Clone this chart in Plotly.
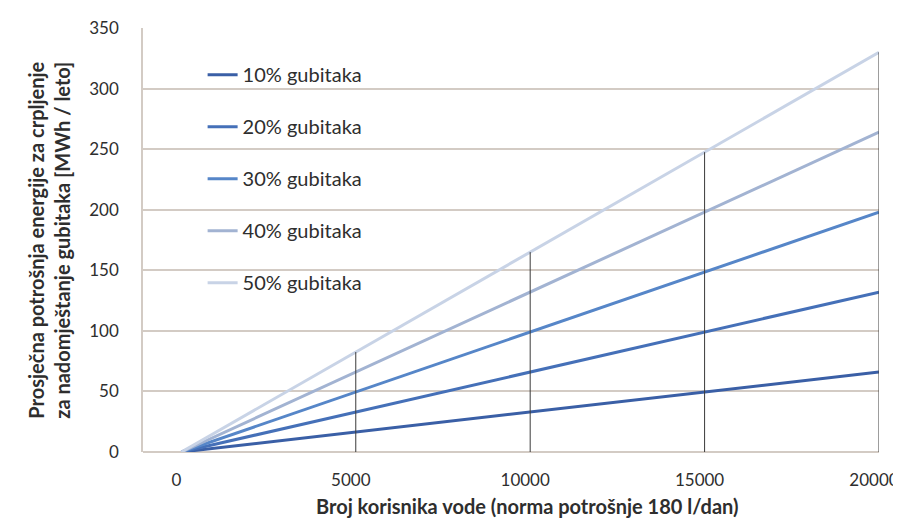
import plotly.graph_objects as go

x_users = [0, 5000, 10000, 15000, 20000]
loss_10 = [0, 16.5, 33, 49.5, 66]
loss_20 = [0, 33, 66, 99, 132]
loss_30 = [0, 49.5, 99, 148.5, 198]
loss_40 = [0, 66, 132, 198, 264]
loss_50 = [0, 82.5, 165, 247.5, 330]
series_names = ["10% gubitaka", "20% gubitaka", "30% gubitaka", "40% gubitaka", "50% gubitaka"]
x_ticks = [0, 5000, 10000, 15000, 20000]
y_ticks = [0, 50, 100, 150, 200, 250, 300, 350]

colors = ["#3a5fa6", "#4570b8", "#5686c8", "#a2b3d2", "#c8d3e6"]
FONT = "Lato, 'Open Sans', sans-serif"
GRID = "#d3cbc4"
TXT = "#2e2e2e"

fig = go.Figure()

series = [loss_10, loss_20, loss_30, loss_40, loss_50]
for i, (name, vals) in enumerate(zip(series_names, series)):
    fig.add_trace(go.Scatter(
        x=x_users, y=vals, mode="lines", name=name,
        line=dict(color=colors[i], width=3),
        legendgroup=name,
    ))

# drop lines from the top series down to the axis
dx, dy = [], []
for xv, yv in zip(x_users, loss_50):
    if yv > 0:
        dx += [xv, xv, None]
        dy += [0, yv, None]
fig.add_trace(go.Scatter(x=dx, y=dy, mode="lines", showlegend=False,
                         line=dict(color="#3a3a3a", width=1), hoverinfo="skip"))

fig.update_layout(
    width=893, height=517,
    margin=dict(l=135, r=22, t=20, b=73),
    paper_bgcolor="white", plot_bgcolor="white",
    font=dict(family=FONT, size=17, color=TXT),
    legend=dict(
        x=0.081, y=0.936, xanchor="left", yanchor="top",
        bgcolor="rgba(0,0,0,0)", tracegroupgap=23,
        font=dict(family=FONT, size=20, color=TXT),
    ),
    showlegend=True,
)

fig.update_xaxes(
    range=[-1100, 20000], tickvals=x_ticks, ticktext=[str(v) for v in x_ticks],
    showgrid=False, zeroline=False, showline=False,
    ticks="", ticklabelstandoff=16, ticklabelshift=-5, automargin=False,
    ticklabeloverflow="allow",
    tickfont=dict(family=FONT, size=17, color=TXT),
)
fig.update_yaxes(
    range=[0, 350], tickvals=y_ticks,
    showgrid=True, gridcolor=GRID, gridwidth=1.5,
    zeroline=True, zerolinecolor=GRID, zerolinewidth=1.5,
    showline=True, linecolor=GRID, linewidth=1.5,
    ticks="", ticklabelstandoff=19, automargin=False,
    tickfont=dict(family=FONT, size=17, color=TXT),
)

fig.add_annotation(
    xref="paper", yref="paper", x=0.523, y=-0.128, xanchor="center", yanchor="middle",
    text="<b>Broj korisnika vode (norma potrošnje 180 l/dan)</b>",
    showarrow=False, font=dict(family=FONT, size=20, color=TXT),
)

fig.add_annotation(
    xref="paper", yref="paper", x=-0.128, y=0.5, xanchor="center", yanchor="middle",
    text="<b>Prosječna potrošnja energije za crpljenje<br>za nadomještanje gubitaka [MWh / leto]</b>",
    textangle=-90, showarrow=False,
    font=dict(family=FONT, size=20, color=TXT),
)

fig.write_html("out.html")
